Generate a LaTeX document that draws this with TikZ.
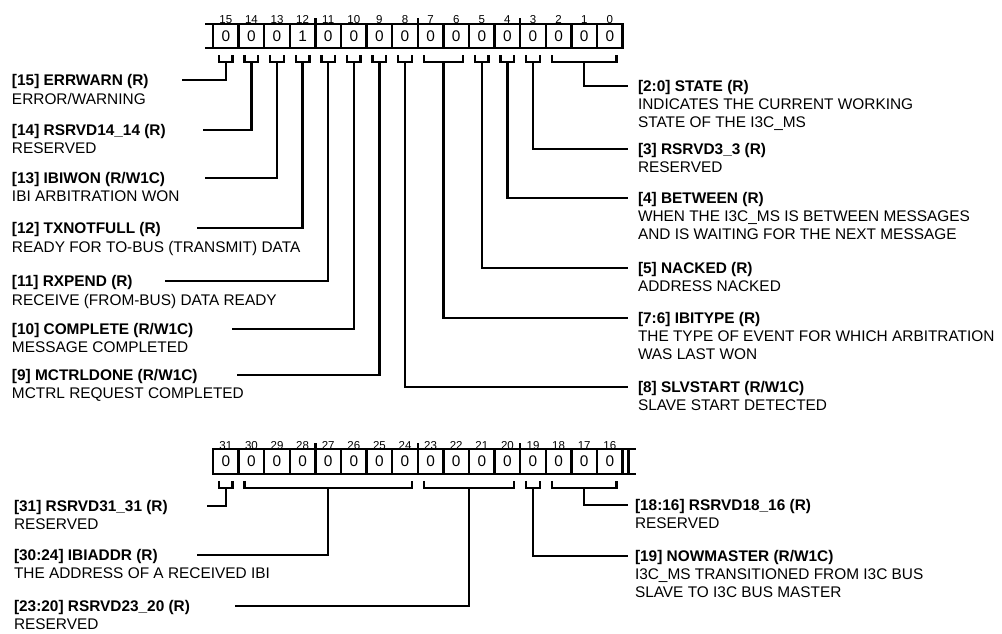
\documentclass[tikz,border=0pt]{standalone}
\usepackage{fontspec}
\setmainfont{Liberation Sans}
\usepackage{tikz}
\usetikzlibrary{positioning}

\begin{document}
\begin{tikzpicture}[
        x=1pt, y=-1pt,
        every node/.style={inner sep=0pt, outer sep=0pt},
        cell/.style={draw, line width=2.4pt, minimum width=25.6pt, minimum height=24.5pt, font=\fontsize{15.4}{16}\selectfont, label distance=6.3pt},
        num/.style={font=\fontsize{11.5}{12}\selectfont, text height=8.2pt, text depth=0pt},
        field/.style={font=\fontsize{15.4}{18}\selectfont\bfseries, text height=11pt, text depth=0pt},
        desc/.style={font=\fontsize{15.4}{18}\selectfont, align=left},
        frame/.style={draw, line width=2.4pt},
        brace/.style={draw, line width=2.4pt},
        lead/.style={draw, line width=2.4pt}
    ]
    \useasboundingbox (0,0) rectangle (1002,633);

    % Bits 15..0
    \node (b15) [cell, label={[num]above:15}] at (225.8,36) {0};
    \node (b14) [cell, label={[num]above:14}, right=0pt of b15] {0};
    \node (b13) [cell, label={[num]above:13}, right=0pt of b14] {0};
    \node (b12) [cell, label={[num]above:12}, right=0pt of b13] {1};
    \node (b11) [cell, label={[num]above:11}, right=0pt of b12] {0};
    \node (b10) [cell, label={[num]above:10}, right=0pt of b11] {0};
    \node (b9) [cell, label={[num]above:9}, right=0pt of b10] {0};
    \node (b8) [cell, label={[num]above:8}, right=0pt of b9] {0};
    \node (b7) [cell, label={[num]above:7}, right=0pt of b8] {0};
    \node (b6) [cell, label={[num]above:6}, right=0pt of b7] {0};
    \node (b5) [cell, label={[num]above:5}, right=0pt of b6] {0};
    \node (b4) [cell, label={[num]above:4}, right=0pt of b5] {0};
    \node (b3) [cell, label={[num]above:3}, right=0pt of b4] {0};
    \node (b2) [cell, label={[num]above:2}, right=0pt of b3] {0};
    \node (b1) [cell, label={[num]above:1}, right=0pt of b2] {0};
    \node (b0) [cell, label={[num]above:0}, right=0pt of b1] {0};

    \draw [frame] (b15.north west) -- ++(-8,0);
    \draw [frame] (b15.south west) -- ++(-8,0);
    \draw [frame] (b12.north east) -- ++(0,-6);
    \draw [frame] (b8.north east) -- ++(0,-6);
    \draw [frame] (b4.north east) -- ++(0,-6);

    % Bits 31..16
    \node (b31) [cell, label={[num]above:31}] at (225.8,461.5) {0};
    \node (b30) [cell, label={[num]above:30}, right=0pt of b31] {0};
    \node (b29) [cell, label={[num]above:29}, right=0pt of b30] {0};
    \node (b28) [cell, label={[num]above:28}, right=0pt of b29] {0};
    \node (b27) [cell, label={[num]above:27}, right=0pt of b28] {0};
    \node (b26) [cell, label={[num]above:26}, right=0pt of b27] {0};
    \node (b25) [cell, label={[num]above:25}, right=0pt of b26] {0};
    \node (b24) [cell, label={[num]above:24}, right=0pt of b25] {0};
    \node (b23) [cell, label={[num]above:23}, right=0pt of b24] {0};
    \node (b22) [cell, label={[num]above:22}, right=0pt of b23] {0};
    \node (b21) [cell, label={[num]above:21}, right=0pt of b22] {0};
    \node (b20) [cell, label={[num]above:20}, right=0pt of b21] {0};
    \node (b19) [cell, label={[num]above:19}, right=0pt of b20] {0};
    \node (b18) [cell, label={[num]above:18}, right=0pt of b19] {0};
    \node (b17) [cell, label={[num]above:17}, right=0pt of b18] {0};
    \node (b16) [cell, label={[num]above:16}, right=0pt of b17] {0};

    \draw [frame] (b16.north east) -- ++(13,0);
    \draw [frame] (b16.south east) -- ++(13,0);
    \draw [frame] ([xshift=6pt]b16.north east) -- ([xshift=6pt]b16.south east);
    \draw [frame] (b28.north east) -- ++(0,-6);
    \draw [frame] (b24.north east) -- ++(0,-6);
    \draw [frame] (b20.north east) -- ++(0,-6);

    % Field names
    \node (t15) [field, anchor=west] at (12,80) {[15] ERRWARN (R)};
    \node (d15) [desc, below=7.5pt of t15.south west, anchor=north west] {ERROR/WARNING};
    \node (t14) [field, anchor=west] at (12,130) {[14] RSRVD14\_14 (R)};
    \node (d14) [desc, below=7.5pt of t14.south west, anchor=north west] {RESERVED};
    \node (t13) [field, anchor=west] at (12,178) {[13] IBIWON (R/W1C)};
    \node (d13) [desc, below=7.5pt of t13.south west, anchor=north west] {IBI ARBITRATION WON};
    \node (t12) [field, anchor=west] at (12,228) {[12] TXNOTFULL (R)};
    \node (d12) [desc, below=7.5pt of t12.south west, anchor=north west] {READY FOR TO-BUS (TRANSMIT) DATA};
    \node (t11) [field, anchor=west] at (12,281) {[11] RXPEND (R)};
    \node (d11) [desc, below=7.5pt of t11.south west, anchor=north west] {RECEIVE (FROM-BUS) DATA READY};
    \node (t10) [field, anchor=west] at (12,329) {[10] COMPLETE (R/W1C)};
    \node (d10) [desc, below=7.5pt of t10.south west, anchor=north west] {MESSAGE COMPLETED};
    \node (t9) [field, anchor=west] at (12,375) {[9] MCTRLDONE (R/W1C)};
    \node (d9) [desc, below=7.5pt of t9.south west, anchor=north west] {MCTRL REQUEST COMPLETED};

    \node (t20) [field, anchor=west] at (638,86) {[2:0] STATE (R)};
    \node (d20) [desc, below=7.5pt of t20.south west, anchor=north west] {INDICATES THE CURRENT WORKING\\STATE OF THE I3C\_MS};
    \node (t3) [field, anchor=west] at (638,149) {[3] RSRVD3\_3 (R)};
    \node (d3) [desc, below=7.5pt of t3.south west, anchor=north west] {RESERVED};
    \node (t4) [field, anchor=west] at (638,198) {[4] BETWEEN (R)};
    \node (d4) [desc, below=7.5pt of t4.south west, anchor=north west] {WHEN THE I3C\_MS IS BETWEEN MESSAGES\\AND IS WAITING FOR THE NEXT MESSAGE};
    \node (t5) [field, anchor=west] at (638,268) {[5] NACKED (R)};
    \node (d5) [desc, below=7.5pt of t5.south west, anchor=north west] {ADDRESS NACKED};
    \node (t76) [field, anchor=west] at (638,318) {[7:6] IBITYPE (R)};
    \node (d76) [desc, below=7.5pt of t76.south west, anchor=north west] {THE TYPE OF EVENT FOR WHICH ARBITRATION\\WAS LAST WON};
    \node (t8) [field, anchor=west] at (638,387) {[8] SLVSTART (R/W1C)};
    \node (d8) [desc, below=7.5pt of t8.south west, anchor=north west] {SLAVE START DETECTED};

    \node (t31) [field, anchor=west] at (14,506) {[31] RSRVD31\_31 (R)};
    \node (d31) [desc, below=7.5pt of t31.south west, anchor=north west] {RESERVED};
    \node (t3024) [field, anchor=west] at (14,555) {[30:24] IBIADDR (R)};
    \node (d3024) [desc, below=7.5pt of t3024.south west, anchor=north west] {THE ADDRESS OF A RECEIVED IBI};
    \node (t2320) [field, anchor=west] at (14,606) {[23:20] RSRVD23\_20 (R)};
    \node (d2320) [desc, below=7.5pt of t2320.south west, anchor=north west] {RESERVED};

    \node (t1816) [field, anchor=west] at (635,505) {[18:16] RSRVD18\_16 (R)};
    \node (d1816) [desc, below=7.5pt of t1816.south west, anchor=north west] {RESERVED};
    \node (t19) [field, anchor=west] at (635,556) {[19] NOWMASTER (R/W1C)};
    \node (d19) [desc, below=7.5pt of t19.south west, anchor=north west] {I3C\_MS TRANSITIONED FROM I3C BUS\\SLAVE TO I3C BUS MASTER};

    % Braces under the bits
    \draw [brace] ([xshift=6pt,yshift=-7pt]b15.south west) |- coordinate[pos=0.75] (k15) ([xshift=-6pt,yshift=-14pt]b15.south east) -- ++(0,-7);
    \draw [brace] ([xshift=6pt,yshift=-7pt]b14.south west) |- coordinate[pos=0.75] (k14) ([xshift=-6pt,yshift=-14pt]b14.south east) -- ++(0,-7);
    \draw [brace] ([xshift=6pt,yshift=-7pt]b13.south west) |- coordinate[pos=0.75] (k13) ([xshift=-6pt,yshift=-14pt]b13.south east) -- ++(0,-7);
    \draw [brace] ([xshift=6pt,yshift=-7pt]b12.south west) |- coordinate[pos=0.75] (k12) ([xshift=-6pt,yshift=-14pt]b12.south east) -- ++(0,-7);
    \draw [brace] ([xshift=6pt,yshift=-7pt]b11.south west) |- coordinate[pos=0.75] (k11) ([xshift=-6pt,yshift=-14pt]b11.south east) -- ++(0,-7);
    \draw [brace] ([xshift=6pt,yshift=-7pt]b10.south west) |- coordinate[pos=0.75] (k10) ([xshift=-6pt,yshift=-14pt]b10.south east) -- ++(0,-7);
    \draw [brace] ([xshift=6pt,yshift=-7pt]b9.south west) |- coordinate[pos=0.75] (k9) ([xshift=-6pt,yshift=-14pt]b9.south east) -- ++(0,-7);
    \draw [brace] ([xshift=6pt,yshift=-7pt]b8.south west) |- coordinate[pos=0.75] (k8) ([xshift=-6pt,yshift=-14pt]b8.south east) -- ++(0,-7);
    \draw [brace] ([xshift=6pt,yshift=-7pt]b7.south west) |- coordinate[pos=0.75] (k76) ([xshift=-6pt,yshift=-14pt]b6.south east) -- ++(0,-7);
    \draw [brace] ([xshift=6pt,yshift=-7pt]b5.south west) |- coordinate[pos=0.75] (k5) ([xshift=-6pt,yshift=-14pt]b5.south east) -- ++(0,-7);
    \draw [brace] ([xshift=6pt,yshift=-7pt]b4.south west) |- coordinate[pos=0.75] (k4) ([xshift=-6pt,yshift=-14pt]b4.south east) -- ++(0,-7);
    \draw [brace] ([xshift=6pt,yshift=-7pt]b3.south west) |- coordinate[pos=0.75] (k3) ([xshift=-6pt,yshift=-14pt]b3.south east) -- ++(0,-7);
    \draw [brace] ([xshift=6pt,yshift=-7pt]b2.south west) |- coordinate[pos=0.75] (k20) ([xshift=-6pt,yshift=-14pt]b0.south east) -- ++(0,-7);

    \draw [brace] ([xshift=6pt,yshift=-7pt]b31.south west) |- coordinate[pos=0.75] (k31) ([xshift=-6pt,yshift=-14pt]b31.south east) -- ++(0,-7);
    \draw [brace] ([xshift=6pt,yshift=-7pt]b30.south west) |- coordinate[pos=0.75] (k3024) ([xshift=-6pt,yshift=-14pt]b24.south east) -- ++(0,-7);
    \draw [brace] ([xshift=6pt,yshift=-7pt]b23.south west) |- coordinate[pos=0.75] (k2320) ([xshift=-6pt,yshift=-14pt]b20.south east) -- ++(0,-7);
    \draw [brace] ([xshift=6pt,yshift=-7pt]b19.south west) |- coordinate[pos=0.75] (k19) ([xshift=-6pt,yshift=-14pt]b19.south east) -- ++(0,-7);
    \draw [brace] ([xshift=6pt,yshift=-7pt]b18.south west) |- coordinate[pos=0.75] (k1816) ([xshift=-6pt,yshift=-14pt]b16.south east) -- ++(0,-7);

    % Leaders
    \draw [lead] (k15) |- (t15.east -| 182,0);
    \draw [lead] (k14) |- (t14.east -| 203,0);
    \draw [lead] (k13) |- (t13.east -| 205,0);
    \draw [lead] (k12) |- (t12.east -| 197,0);
    \draw [lead] (k11) |- (t11.east -| 165,0);
    \draw [lead] (k10) |- (t10.east -| 232,0);
    \draw [lead] (k9) |- (t9.east -| 237,0);
    \draw [lead] (k20) |- (t20.west -| 628,0);
    \draw [lead] (k3) |- (t3.west -| 628,0);
    \draw [lead] (k4) |- (t4.west -| 628,0);
    \draw [lead] (k5) |- (t5.west -| 628,0);
    \draw [lead] (k76) |- (t76.west -| 628,0);
    \draw [lead] (k8) |- (t8.west -| 628,0);
    \draw [lead] (k31) |- (t31.east -| 207,0);
    \draw [lead] (k3024) |- (t3024.east -| 197,0);
    \draw [lead] (k2320) |- (t2320.east -| 235,0);
    \draw [lead] (k1816) |- (t1816.west -| 628,0);
    \draw [lead] (k19) |- (t19.west -| 628,0);

\end{tikzpicture}
\end{document}
